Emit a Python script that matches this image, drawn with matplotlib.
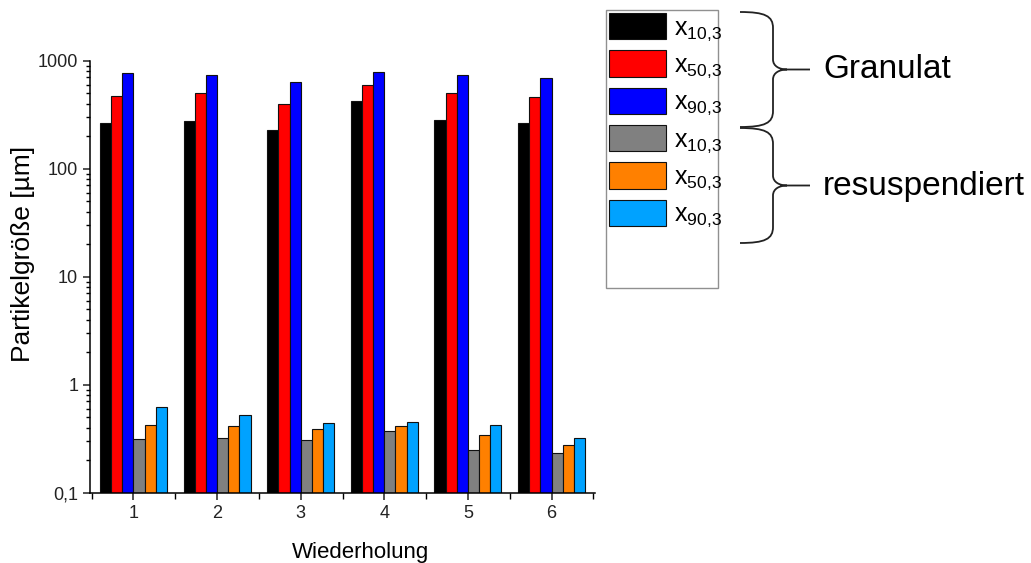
import numpy as np
import matplotlib
matplotlib.use('Agg')
import matplotlib.pyplot as plt
from matplotlib.path import Path
from matplotlib.patches import PathPatch, Rectangle
from matplotlib.ticker import FixedLocator, FuncFormatter, LogLocator, NullFormatter
import matplotlib.transforms as mtransforms

plt.rcParams['font.family'] = ['Liberation Sans', 'DejaVu Sans']
plt.rcParams['mathtext.fontset'] = 'custom'
plt.rcParams['mathtext.rm'] = 'Liberation Sans'

W, H = 1031, 563

# Wiederholungen und Partikelgrößen in µm
runs = [1, 2, 3, 4, 5, 6]
granulat_x10 = [267, 278, 227, 427, 284, 263]
granulat_x50 = [471, 499, 400, 600, 499, 458]
granulat_x90 = [764, 733, 631, 786, 733, 696]
resusp_x10 = [0.314, 0.323, 0.307, 0.375, 0.248, 0.235]
resusp_x50 = [0.424, 0.417, 0.391, 0.412, 0.342, 0.275]
resusp_x90 = [0.625, 0.520, 0.445, 0.454, 0.421, 0.323]

series = [granulat_x10, granulat_x50, granulat_x90, resusp_x10, resusp_x50, resusp_x90]
labels = [r'$\mathregular{x_{10{,}3}}$', r'$\mathregular{x_{50{,}3}}$',
          r'$\mathregular{x_{90{,}3}}$'] * 2
colors = ['#000000', '#ff0000', '#0000ff', '#808080', '#ff8000', '#00a2ff']

fig = plt.figure(figsize=(W / 100, H / 100), dpi=100)
ax = fig.add_axes([90 / W, 1 - 492.7 / H, 505 / W, 432 / H])

x = np.array(runs, dtype=float)
w = 0.8 / len(series)
bars = []
for k, (vals, col, lab) in enumerate(zip(series, colors, labels)):
    b = ax.bar(x - 0.4 + w * (k + 0.5), vals, width=w, color=col,
               edgecolor='#111111', linewidth=0.8, label=lab)
    bars.append(b)

ax.set_yscale('log')
ax.set_ylim(0.1, 1000)
ax.set_xlim(0.48, 6.52)

ax.yaxis.set_major_locator(FixedLocator([0.1, 1, 10, 100, 1000]))
ax.yaxis.set_major_formatter(FuncFormatter(lambda v, p: ('%g' % v).replace('.', ',')))
ax.yaxis.set_minor_locator(LogLocator(base=10, subs=np.arange(2, 10)))
ax.yaxis.set_minor_formatter(NullFormatter())
ax.set_xticks(runs)
ax.set_xticks(np.arange(0.5, 7, 1.0), minor=True)

for s in ['top', 'right']:
    ax.spines[s].set_visible(False)
for s in ['left', 'bottom']:
    ax.spines[s].set_linewidth(1.1)

ax.tick_params(axis='both', which='major', direction='out', length=5, width=1.1,
               labelsize=13, colors='#222222')
ax.tick_params(axis='both', which='minor', direction='out', length=3, width=1.0)
ax.tick_params(axis='x', which='minor', length=4)

ax.set_xlabel('Wiederholung', fontsize=16)
ax.xaxis.set_label_coords((361 - 90) / 505, -0.115)
ax.set_ylabel('Partikelgröße [µm]', fontsize=19)
ax.yaxis.set_label_coords(-0.108, (492.7 - 254) / 432)

# Legende mit Rahmen
px = mtransforms.Affine2D().scale(1, -1).translate(0, H)
fig.patches.append(Rectangle((606, 288), 112, -278, transform=px, fill=False,
                             edgecolor='#909090', linewidth=1.0))
fig.legend(handles=bars, labels=labels, loc='upper left',
           bbox_to_anchor=(609 / W, 1 - 13 / H), frameon=False, fontsize=18,
           handlelength=2.28, handleheight=1.25, handletextpad=0.3,
           labelspacing=0.3, borderpad=0, borderaxespad=0)


def brace(y0, y1, x0=740, xs=773, xt=810):
    ym = (y0 + y1) / 2
    verts = [(x0, y0), (765, y0), (xs, y0 + 4), (xs, y0 + 16),
             (xs, ym - 10),
             (xs, ym - 3), (780, ym), (787, ym),
             (xt, ym),
             (787, ym), (780, ym), (xs, ym + 3), (xs, ym + 10),
             (xs, y1 - 16),
             (xs, y1 - 4), (765, y1), (x0, y1)]
    codes = [Path.MOVETO, Path.CURVE4, Path.CURVE4, Path.CURVE4,
             Path.LINETO,
             Path.CURVE4, Path.CURVE4, Path.CURVE4,
             Path.LINETO,
             Path.MOVETO, Path.CURVE4, Path.CURVE4, Path.CURVE4,
             Path.LINETO,
             Path.CURVE4, Path.CURVE4, Path.CURVE4]
    fig.patches.append(PathPatch(Path(verts, codes), transform=px, fill=False,
                                 edgecolor='#222222', linewidth=1.3))
    return ym


g = brace(12, 127)
r = brace(128, 243)
fig.text(823 / W, 1 - g / H, 'Granulat', fontsize=24, va='center', ha='left')
fig.text(823 / W, 1 - (r + 1) / H, 'resuspendiert', fontsize=24, va='center', ha='left')

fig.savefig('out.png', dpi=100)
